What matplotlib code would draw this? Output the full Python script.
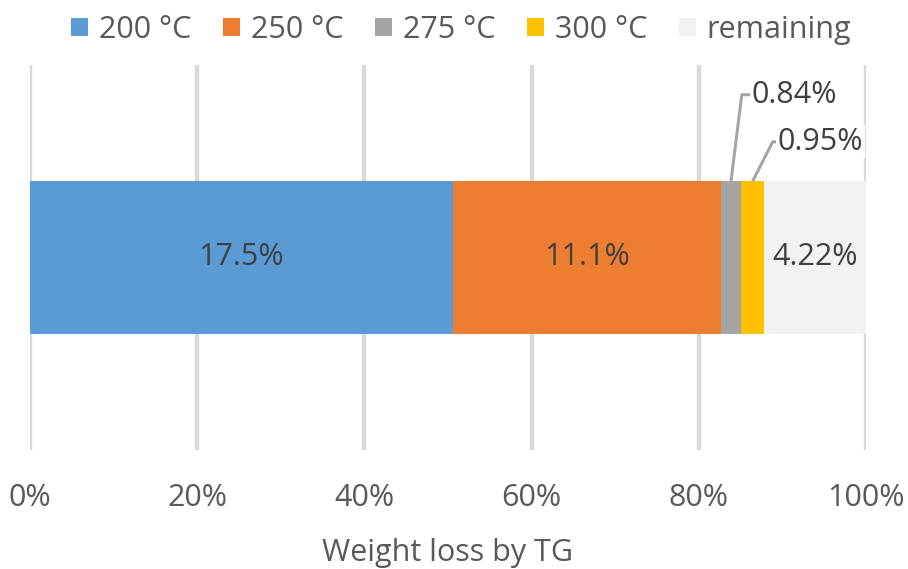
import numpy as np
import matplotlib.pyplot as plt
from matplotlib.patches import Patch

plt.rcParams['font.family'] = ['Open Sans', 'DejaVu Sans']

# data
series = ['200 °C', '250 °C', '275 °C', '300 °C', 'remaining']
values = [17.5, 11.1, 0.84, 0.95, 4.22]
labels = ['17.5%', '11.1%', '0.84%', '0.95%', '4.22%']
colors = ['#5B9BD5', '#ED7D31', '#A5A5A5', '#FFC000', '#F2F2F2']
ticks = [0, 20, 40, 60, 80, 100]
tick_labels = ['0%', '20%', '40%', '60%', '80%', '100%']

txt = '#595959'
fs = 22

pct = np.array(values) / sum(values) * 100
left = np.concatenate([[0], np.cumsum(pct)[:-1]])
bar_h = 0.79

fig = plt.figure(figsize=(9.08, 5.69), dpi=100)
ax = fig.add_axes([0.033, 0.209, 0.9207, 0.677])

for x in ticks:
    ax.axvline(x, color='#D9D9D9', lw=3.2, zorder=0)

ax.barh(0, pct, left=left, height=bar_h, color=colors, zorder=2)

# labels inside the bar
for i in [0, 1, 4]:
    ax.text(left[i] + pct[i] / 2, 0, labels[i], ha='center', va='center',
            fontsize=fs, color='#404040', zorder=3)

# leader-line labels for the thin segments
leaders = {2: (1.3, 0.845, 1.0), 3: (2.4, 0.60, 0.4)}
for i, (dx, ty, run) in leaders.items():
    cx = left[i] + pct[i] / 2
    ex = cx + dx
    ax.plot([cx, ex, ex + run], [bar_h / 2, ty, ty], color='#A5A5A5',
            lw=2.2, zorder=3, solid_capstyle='butt')
    ax.text(ex + run + 0.2, ty, labels[i], ha='left', va='center',
            fontsize=fs, color='#404040', zorder=4,
            bbox=dict(facecolor='white', edgecolor='none', pad=1))

ax.set_xlim(0, 100)
ax.set_ylim(-1, 1)
ax.set_yticks([])
ax.set_xticks(ticks)
ax.set_xticklabels(tick_labels)
ax.tick_params(axis='x', length=0, pad=24, labelsize=fs, colors=txt)
for s in ax.spines.values():
    s.set_visible(False)
ax.set_xlabel('Weight loss by TG', fontsize=fs, color=txt, labelpad=18)

handles = [Patch(facecolor=c, edgecolor='none') for c in colors]
fig.legend(handles, series, loc='center', bbox_to_anchor=(0.508, 0.948),
           ncol=5, frameon=False, fontsize=fs, labelcolor=txt,
           handlelength=0.55, handleheight=0.55, handletextpad=0.35,
           columnspacing=1.05)

fig.savefig('out.png', dpi=100)
